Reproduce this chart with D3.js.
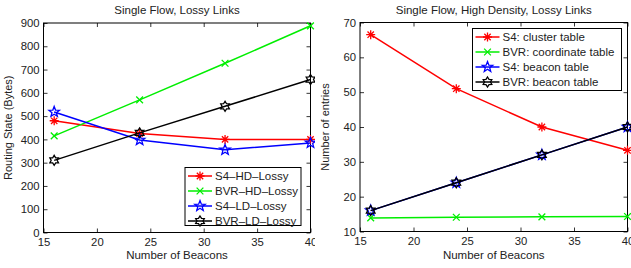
<!DOCTYPE html>
<html>
<head>
<meta charset="utf-8">
<script src="https://cdn.jsdelivr.net/npm/d3@7"></script>
<style>
  body { margin: 0; background: #fff; }
  svg { display: block; font-family: "Liberation Sans", Arial, sans-serif; }
</style>
</head>
<body>
<svg id="chart" width="631" height="268"></svg>
<script>
// data
var beacons = [16, 24, 32, 40];

// left panel: routing state (bytes)
var s4HD  = [480, 425, 400, 400];
var bvrHD = [415, 570, 727, 888];
var s4LD  = [518, 397, 355, 385];
var bvrLD = [310, 428, 542, 657];

// right panel: number of entries
var s4Cluster   = [66.5, 51, 40, 33.3];
var bvrCoord    = [13.9, 14.1, 14.2, 14.3];
var s4Beacon    = [16, 24, 32, 40];
var bvrBeacon   = [16, 24, 32, 40];

var xTicks = [15, 20, 25, 30, 35, 40];
var leftYTicks = [0, 100, 200, 300, 400, 500, 600, 700, 800, 900];
var rightYTicks = [10, 20, 30, 40, 50, 60, 70];

var svg = d3.select("#chart");

// marker shapes (MATLAB style)
function markerPath(type, r) {
  var p = d3.path();
  if (type == "asterisk") {
    for (var k = 0; k < 4; k++) {
      var a = k * Math.PI / 4;
      p.moveTo(-r * Math.cos(a), -r * Math.sin(a));
      p.lineTo(r * Math.cos(a), r * Math.sin(a));
    }
  } else if (type == "x") {
    var q = r * 0.75;
    p.moveTo(-q, -q); p.lineTo(q, q);
    p.moveTo(-q, q); p.lineTo(q, -q);
  } else if (type == "pentagram") {
    for (var i = 0; i < 10; i++) {
      var rr = i % 2 == 0 ? r : r * 0.42;
      var ang = -Math.PI / 2 + i * Math.PI / 5;
      if (i == 0) p.moveTo(rr * Math.cos(ang), rr * Math.sin(ang));
      else p.lineTo(rr * Math.cos(ang), rr * Math.sin(ang));
    }
    p.closePath();
  } else if (type == "hexagram") {
    for (var j = 0; j < 12; j++) {
      var rh = j % 2 == 0 ? r : r * 0.6;
      var ah = -Math.PI / 2 + j * Math.PI / 6;
      if (j == 0) p.moveTo(rh * Math.cos(ah), rh * Math.sin(ah));
      else p.lineTo(rh * Math.cos(ah), rh * Math.sin(ah));
    }
    p.closePath();
  }
  return p.toString();
}

function drawPanel(opt) {
  var clipId = "clip" + opt.id;
  svg.append("clipPath").attr("id", clipId)
    .append("rect").attr("x", opt.clip[0]).attr("y", 0)
    .attr("width", opt.clip[1] - opt.clip[0]).attr("height", 268);

  var g = svg.append("g").attr("clip-path", "url(#" + clipId + ")");

  var x = d3.scaleLinear().domain([15, 40]).range([opt.left, opt.right]);
  var y = d3.scaleLinear().domain(opt.yDomain).range([opt.bottom, opt.top]);

  // axes with inward ticks
  g.append("g")
    .attr("transform", `translate(0,${opt.bottom})`)
    .call(d3.axisBottom(x).tickValues(xTicks).tickSizeInner(-4).tickSizeOuter(0).tickPadding(5));
  g.append("g")
    .attr("transform", `translate(${opt.left},0)`)
    .call(d3.axisLeft(y).tickValues(opt.yTicks).tickSizeInner(-4).tickSizeOuter(0).tickPadding(4));
  // top and right tick marks
  g.append("g")
    .attr("transform", `translate(0,${opt.top})`)
    .call(d3.axisTop(x).tickValues(xTicks).tickSizeInner(-4).tickSizeOuter(0).tickFormat(""));
  g.append("g")
    .attr("transform", `translate(${opt.right},0)`)
    .call(d3.axisRight(y).tickValues(opt.yTicks).tickSizeInner(-4).tickSizeOuter(0).tickFormat(""));

  g.selectAll(".domain").remove();
  g.selectAll(".tick line").attr("stroke", "#000").attr("stroke-width", 0.8);
  g.selectAll(".tick text").attr("font-size", 11.3).attr("fill", "#222")
    .attr("font-family", "Liberation Sans, Arial, sans-serif");

  g.append("rect")
    .attr("x", opt.left).attr("y", opt.top)
    .attr("width", opt.right - opt.left).attr("height", opt.bottom - opt.top)
    .attr("fill", "none").attr("stroke", "#000").attr("stroke-width", 1);

  // series
  var line = d3.line().x((d, i) => x(beacons[i])).y(d => y(d));
  opt.series.forEach(function(s) {
    g.append("path").datum(s.values)
      .attr("d", line).attr("fill", "none")
      .attr("stroke", s.color).attr("stroke-width", 1.5);
    g.selectAll(null).data(s.values).join("path")
      .attr("transform", (d, i) => `translate(${x(beacons[i])},${y(d)})`)
      .attr("d", markerPath(s.marker, s.size))
      .attr("fill", "none").attr("stroke", s.color).attr("stroke-width", 1.3);
  });

  // title and labels
  g.append("text").attr("x", (opt.left + opt.right) / 2).attr("y", 13.5)
    .attr("text-anchor", "middle").attr("font-size", 11.5).attr("fill", "#222")
    .text(opt.title);
  g.append("text").attr("x", (opt.left + opt.right) / 2).attr("y", 258.5)
    .attr("text-anchor", "middle").attr("font-size", 11.5).attr("fill", "#222")
    .text("Number of Beacons");
  g.append("text")
    .attr("transform", `translate(${opt.ylabelX},${(opt.top + opt.bottom) / 2}) rotate(-90)`)
    .attr("text-anchor", "middle").attr("font-size", 11).attr("fill", "#222")
    .text(opt.ylabel);

  // legend
  var L = opt.legend;
  g.append("rect").attr("x", L.x).attr("y", L.y).attr("width", L.w).attr("height", L.h)
    .attr("fill", "#fff").attr("stroke", "#000").attr("stroke-width", 1);
  opt.series.forEach(function(s, i) {
    var ry = L.y + 8.5 + i * 15;
    g.append("line").attr("x1", L.x + 3).attr("x2", L.x + 27).attr("y1", ry).attr("y2", ry)
      .attr("stroke", s.color).attr("stroke-width", 1.5);
    g.append("path").attr("transform", `translate(${L.x + 15},${ry})`)
      .attr("d", markerPath(s.marker, s.size))
      .attr("fill", "none").attr("stroke", s.color).attr("stroke-width", 1.3);
    g.append("text").attr("x", L.x + 30).attr("y", ry + 4)
      .attr("font-size", 11.5).attr("fill", "#222").text(s.name);
  });
}

drawPanel({
  id: "L", clip: [0, 315],
  left: 43.5, right: 310.5, top: 23, bottom: 232.5,
  yDomain: [0, 900], yTicks: leftYTicks,
  title: "Single Flow, Lossy Links",
  ylabel: "Routing State (Bytes)", ylabelX: 12,
  legend: { x: 185, y: 167.5, w: 116, h: 58 },
  series: [
    { name: "S4\u2013HD\u2013Lossy", values: s4HD, color: "#ff0000", marker: "asterisk", size: 4.5 },
    { name: "BVR\u2013HD\u2013Lossy", values: bvrHD, color: "#00ee00", marker: "x", size: 4.5 },
    { name: "S4\u2013LD\u2013Lossy", values: s4LD, color: "#0000ff", marker: "pentagram", size: 5.5 },
    { name: "BVR\u2013LD\u2013Lossy", values: bvrLD, color: "#000000", marker: "hexagram", size: 5 }
  ]
});

drawPanel({
  id: "R", clip: [315, 631],
  left: 360, right: 627.5, top: 22.5, bottom: 231.5,
  yDomain: [10, 70], yTicks: rightYTicks,
  title: "Single Flow, High Density, Lossy Links",
  ylabel: "Number of entries", ylabelX: 329,
  legend: { x: 472.5, y: 28.5, w: 149, h: 62 },
  series: [
    { name: "S4: cluster table", values: s4Cluster, color: "#ff0000", marker: "asterisk", size: 4.5 },
    { name: "BVR: coordinate table", values: bvrCoord, color: "#00ee00", marker: "x", size: 4.5 },
    { name: "S4: beacon table", values: s4Beacon, color: "#0000ff", marker: "pentagram", size: 5.5 },
    { name: "BVR: beacon table", values: bvrBeacon, color: "#000000", marker: "hexagram", size: 5 }
  ]
});
</script>
</body>
</html>
